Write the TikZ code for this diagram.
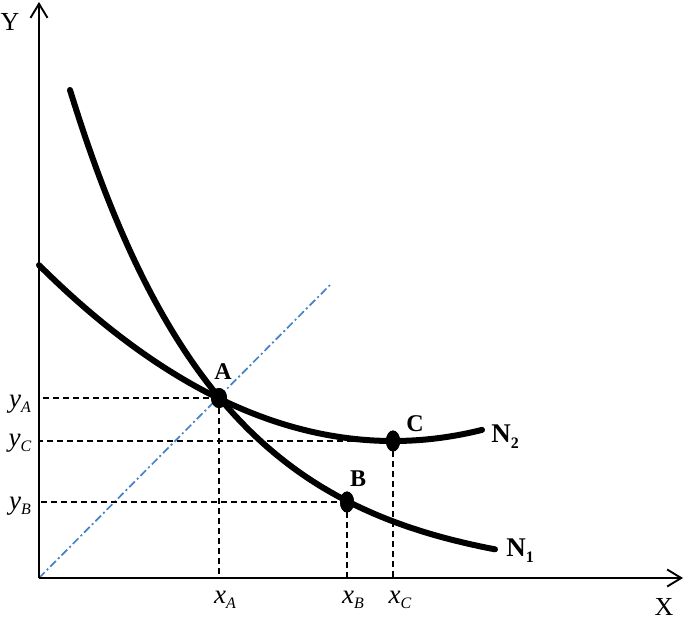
\documentclass[tikz,border=0pt]{standalone}
\usepackage{fontspec}
\setmainfont{Liberation Serif}
\usetikzlibrary{arrows.meta,shapes.geometric}
\newcommand{\sublbl}[2]{\textit{#1}\raisebox{-0.45ex}{\fontsize{16}{16}\selectfont\textit{#2}}}
\newcommand{\nlbl}[2]{\textbf{#1}\raisebox{-0.5ex}{\fontsize{16}{16}\selectfont\textbf{#2}}}
\tikzset{
  axisline/.style={line width=1.9pt,-{Straight Barb[length=14pt,width=17pt,line width=1.9pt]}},
  curve/.style={line width=6pt,line cap=round},
  guide/.style={line width=1.8pt,dash pattern=on 6pt off 4pt},
  diag/.style={line width=1.7pt,color={rgb,255:red,70;green,130;blue,200},dash pattern=on 8pt off 3pt on 2pt off 3pt},
  dot/.style={ellipse,fill=black,inner sep=0pt,minimum width=14pt,minimum height=21pt},
  lbl/.style={font=\fontsize{27}{32}\selectfont,inner sep=0pt},
  axlbl/.style={font=\fontsize{26}{30}\selectfont,inner sep=0pt},
  blbl/.style={font=\fontsize{24}{28}\selectfont\bfseries,inner sep=0pt}
}
\begin{document}
\begin{tikzpicture}[x=1pt,y=-1pt]
\useasboundingbox (0,0) rectangle (685,622);
\coordinate (O) at (39,578);
\coordinate (Ytop) at (39,2);
\coordinate (Xend) at (683,578);
\coordinate (Dend) at (330,285);
% diagonal
\draw[diag] (O) -- (Dend);
% points
\node[dot,minimum width=16pt,minimum height=20pt] (A) at (219,398) {};
\node[dot] (B) at (347,502) {};
\node[dot] (C) at (393,441) {};
% guides
\draw[guide] (A.center) -- (A.center -| O);
\draw[guide] (A.center) -- (A.center |- O);
\draw[guide] (B.center) -- (B.center -| O);
\draw[guide] (B.center) -- (B.center |- O);
\draw[guide] (C.center) -- (C.center -| O);
\draw[guide] (C.center) -- (C.center |- O);
% curves
\draw[curve] plot[domain=70:495,samples=120] (\x,{578-488*exp(-(\x-70)/150)});
\draw[curve] plot[domain=39:482,samples=120] (\x,{578-137-0.0014*(\x-393)*(\x-393)});
% dots on top
\node[dot,minimum width=16pt,minimum height=20pt] at (A) {};
\node[dot] at (B) {};
\node[dot] at (C) {};
% axes
\draw[axisline] (O) -- (Ytop);
\draw[axisline] (O) -- (Xend);
% labels
\node[axlbl] (Ylab) at (10,22) {Y};
\node[axlbl] (Xlab) at (664,607) {X};
\node[blbl] (Alab) at (223,372) {A};
\node[blbl] (Blab) at (358,479) {B};
\node[blbl] (Clab) at (415,424) {C};
\node[lbl] (N2lab) at (505,437) {\nlbl{N}{2}};
\node[lbl] (N1lab) at (520,551) {\nlbl{N}{1}};
\node[lbl] (yA) at (20,404) {\sublbl{y}{A}};
\node[lbl] (yC) at (20,443) {\sublbl{y}{C}};
\node[lbl] (yB) at (20,506) {\sublbl{y}{B}};
\node[lbl] (xA) at (225,600) {\sublbl{x}{A}};
\node[lbl] (xB) at (353,600) {\sublbl{x}{B}};
\node[lbl] (xC) at (400,600) {\sublbl{x}{C}};
\end{tikzpicture}
\end{document}
